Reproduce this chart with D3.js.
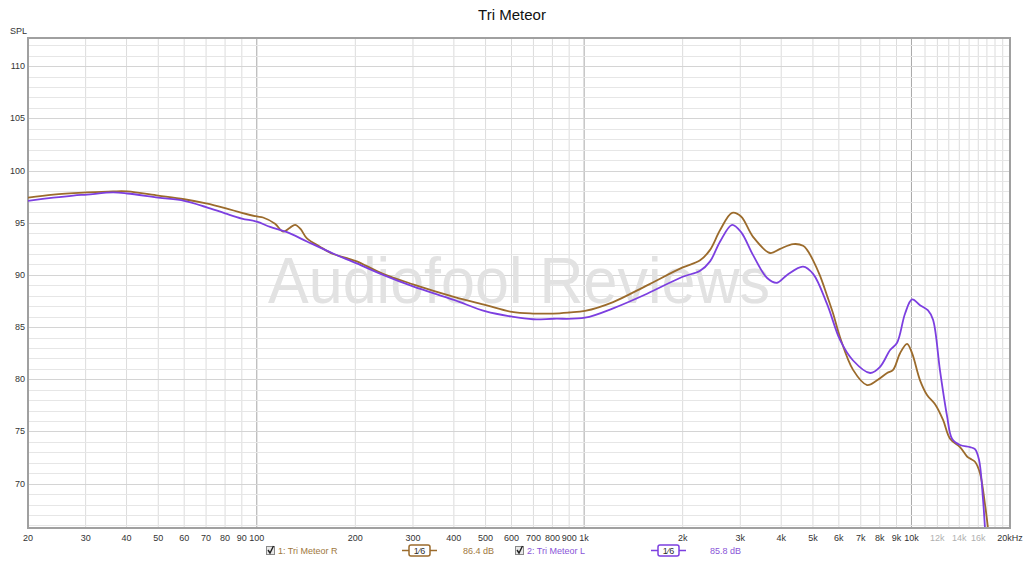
<!DOCTYPE html>
<html>
<head>
<meta charset="utf-8">
<script src="https://cdn.jsdelivr.net/npm/d3@7"></script>
<style>
  body { margin: 0; background: #fff; }
  text { font-family: "Liberation Sans", Arial, sans-serif; }
</style>
</head>
<body>
<div id="chart"></div>
<script>
// Frequency response data
var freqR = [20, 23.9, 30.3, 36.4, 40.2, 50, 60, 70, 80, 90, 100, 104.5, 113.7, 120.3, 126, 130.9, 136, 142.3, 156, 171, 188.6, 202, 243, 300, 400, 501, 602, 698, 804, 899, 1006, 1226, 1557, 1992, 2261, 2425, 2603, 2832, 3016, 3282, 3700, 3971, 4350, 4665, 4798, 5006, 5258, 5524, 5762, 6054, 6632, 7318, 7852, 8426, 8788, 9230, 9696, 10042, 10622, 11158, 11805, 12488, 13118, 14073, 14783, 15098, 15633, 16195, 16777, 17135, 17500];
var splR  = [97.4, 97.7, 97.9, 98.0, 98.0, 97.6, 97.25, 96.85, 96.4, 95.95, 95.6, 95.5, 94.9, 94.15, 94.5, 94.8, 94.4, 93.5, 92.7, 92.0, 91.6, 91.3, 90.1, 89.1, 87.9, 87.1, 86.45, 86.3, 86.3, 86.4, 86.55, 87.4, 89.0, 90.7, 91.4, 92.4, 94.3, 95.95, 95.6, 93.65, 92.1, 92.5, 92.95, 92.8, 92.4, 91.4, 89.9, 88.0, 86.3, 84.0, 80.9, 79.45, 79.9, 80.6, 80.9, 82.5, 83.4, 82.5, 79.9, 78.5, 77.6, 76.1, 74.3, 73.5, 72.6, 72.4, 72.1, 71.0, 68.0, 65.7, 63];

var freqL = [20, 23.9, 27.5, 30.3, 36.4, 40.2, 50, 60, 70, 80, 90, 100, 109.8, 123.7, 142.3, 171, 202, 243, 300, 400, 501, 602, 698, 804, 1006, 1226, 1557, 1992, 2261, 2425, 2603, 2832, 3016, 3282, 3623, 3886, 4169, 4665, 5006, 5524, 6054, 6632, 7476, 8020, 8606, 9037, 9561, 10042, 10622, 11236, 11640, 12228, 12843, 13304, 14073, 15098, 15633, 16081, 16542, 16777, 17000];
var splL  = [97.1, 97.4, 97.6, 97.7, 97.9, 97.8, 97.4, 97.1, 96.5, 95.9, 95.4, 95.1, 94.6, 94.1, 93.2, 92.05, 91.1, 90.0, 88.9, 87.6, 86.5, 86.0, 85.75, 85.8, 85.9, 86.8, 88.2, 89.8, 90.4, 91.3, 93.2, 94.8, 94.1, 91.9, 89.7, 89.25, 90.0, 90.8, 90.1, 87.2, 83.75, 81.8, 80.6, 81.2, 82.8, 83.5, 86.3, 87.65, 87.1, 86.6, 85.7, 80.8, 76.5, 74.3, 73.7, 73.5, 73.3, 72.3, 68.5, 65.7, 63];

var yTicks = [70, 75, 80, 85, 90, 95, 100, 105, 110];
var xTickVals = [20, 30, 40, 50, 60, 70, 80, 90, 100, 200, 300, 400, 500, 600, 700, 800, 900, 1000, 2000, 3000, 4000, 5000, 6000, 7000, 8000, 9000, 10000, 12000, 14000, 16000, 20000];
var xTickLabels = ["20", "30", "40", "50", "60", "70", "80", "90", "100", "200", "300", "400", "500", "600", "700", "800", "900", "1k", "2k", "3k", "4k", "5k", "6k", "7k", "8k", "9k", "10k", "12k", "14k", "16k", "20kHz"];

var colR = "#9b6b2c", colL = "#7c3fe0";

var W = 1024, H = 562;
var plot = {left: 28, right: 1010, top: 38, bottom: 528};

var svg = d3.select("#chart").append("svg")
  .attr("width", W)
  .attr("height", H);

var x = d3.scaleLog().domain([20, 20000]).range([plot.left, plot.right]);
var y = d3.scaleLinear().domain([65.75, 112.7]).range([plot.bottom, plot.top]);

// title
svg.append("text")
  .attr("x", 512).attr("y", 20)
  .attr("text-anchor", "middle")
  .style("font-size", "15px")
  .style("fill", "#111")
  .text("Tri Meteor");

// grid: vertical lines at each integer multiple within a decade, plus 11k..19k
var vLines = [];
[10, 100, 1000].forEach(function(dec) {
  for (var k = 1; k < 10; k++) {
    var f = dec * k;
    if (f >= 20) vLines.push(f);
  }
});
for (var k = 10; k <= 20; k++) vLines.push(k * 1000);

svg.selectAll(".vgrid")
  .data(vLines)
  .enter().append("line")
  .attr("x1", d => x(d)).attr("x2", d => x(d))
  .attr("y1", plot.top).attr("y2", plot.bottom)
  .style("stroke", d => (d === 100 || d === 1000 || d === 10000) ? "#a8a8a8" : "#dcdcdc")
  .style("stroke-width", 1);

var hLines = d3.range(66, 113);
svg.selectAll(".hgrid")
  .data(hLines)
  .enter().append("line")
  .attr("x1", plot.left).attr("x2", plot.right)
  .attr("y1", d => Math.round(y(d)) + 0.5).attr("y2", d => Math.round(y(d)) + 0.5)
  .style("stroke", d => d % 5 === 0 ? "#d4d4d4" : "#e6e6e6")
  .style("stroke-width", 1);

// watermark
svg.append("text")
  .attr("x", 519).attr("y", 303)
  .attr("text-anchor", "middle")
  .attr("textLength", 502)
  .attr("lengthAdjust", "spacingAndGlyphs")
  .style("font-size", "64px")
  .style("fill", "#e2e2e2")
  .text("Audiofool Reviews");

// frame
svg.append("rect")
  .attr("x", plot.left).attr("y", plot.top)
  .attr("width", plot.right - plot.left)
  .attr("height", plot.bottom - plot.top)
  .style("fill", "none")
  .style("stroke", "#a0a0a0")
  .style("stroke-width", 2);

// y axis labels
svg.append("text")
  .attr("x", 10).attr("y", 34)
  .style("font-size", "9px")
  .style("fill", "#333")
  .text("SPL");

svg.selectAll(".ylab")
  .data(yTicks)
  .enter().append("text")
  .attr("x", 25)
  .attr("y", d => y(d) + 3)
  .attr("text-anchor", "end")
  .style("font-size", "9px")
  .style("fill", "#333")
  .text(d => d);

// x axis labels
svg.selectAll(".xlab")
  .data(xTickVals)
  .enter().append("text")
  .attr("x", d => x(d))
  .attr("y", 541)
  .attr("text-anchor", "middle")
  .style("font-size", "9px")
  .style("fill", d => (d === 12000 || d === 14000 || d === 16000) ? "#b0b0b0" : "#333")
  .text((d, i) => xTickLabels[i]);

// curves
svg.append("clipPath").attr("id", "clip")
  .append("rect")
  .attr("x", plot.left).attr("y", plot.top)
  .attr("width", plot.right - plot.left)
  .attr("height", plot.bottom - plot.top - 1);

var line = d3.line()
  .x(d => x(d[0]))
  .y(d => y(d[1]))
  .curve(d3.curveCatmullRom.alpha(0.5));

var series = [
  {f: freqR, v: splR, c: colR},
  {f: freqL, v: splL, c: colL}
];

series.forEach(function(s) {
  svg.append("path")
    .datum(s.f.map((f, i) => [f, s.v[i]]))
    .attr("clip-path", "url(#clip)")
    .attr("d", line)
    .style("fill", "none")
    .style("stroke", s.c)
    .style("stroke-width", 1.8);
});

// legend
var legend = [
  {label: "1: Tri Meteor R", val: "86.4 dB", c: colR, tc: "#a07840", x: 266, bx: 402, vx: 463},
  {label: "2: Tri Meteor L", val: "85.8 dB", c: colL, tc: "#8a55d8", x: 515, bx: 651, vx: 710}
];

legend.forEach(function(l) {
  var g = svg.append("g");
  g.append("rect")
    .attr("x", l.x + 0.5).attr("y", 546.5)
    .attr("width", 8).attr("height", 8)
    .style("fill", "#e8e8e8")
    .style("stroke", "#888");
  g.append("path")
    .attr("d", `M${l.x + 2},${550} L${l.x + 4},${553} L${l.x + 7.5},${546}`)
    .style("fill", "none")
    .style("stroke", "#222")
    .style("stroke-width", 1.4);
  g.append("text")
    .attr("x", l.x + 12).attr("y", 554)
    .style("font-size", "9px")
    .style("fill", l.tc)
    .text(l.label);
  g.append("line")
    .attr("x1", l.bx).attr("x2", l.bx + 35)
    .attr("y1", 550.5).attr("y2", 550.5)
    .style("stroke", l.c)
    .style("stroke-width", 1.5);
  g.append("rect")
    .attr("x", l.bx + 7).attr("y", 545)
    .attr("width", 21).attr("height", 11)
    .attr("rx", 2)
    .style("fill", "#fff")
    .style("stroke", l.c)
    .style("stroke-width", 1.5);
  g.append("text")
    .attr("x", l.bx + 17.5).attr("y", 554)
    .attr("text-anchor", "middle")
    .style("font-size", "9px")
    .style("fill", "#333")
    .text("1\u20446");
  g.append("text")
    .attr("x", l.vx).attr("y", 554)
    .style("font-size", "9px")
    .style("fill", l.tc)
    .text(l.val);
});
</script>
</body>
</html>
